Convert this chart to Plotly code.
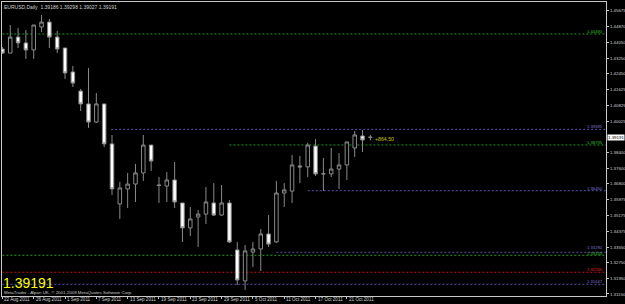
import plotly.graph_objects as go

# ---------------- data ----------------
dates = ["2011-08-22","2011-08-23","2011-08-24","2011-08-25","2011-08-26",
         "2011-08-29","2011-08-30","2011-08-31","2011-09-01","2011-09-02",
         "2011-09-05","2011-09-06","2011-09-07","2011-09-08","2011-09-09",
         "2011-09-12","2011-09-13","2011-09-14","2011-09-15","2011-09-16",
         "2011-09-19","2011-09-20","2011-09-21","2011-09-22","2011-09-23",
         "2011-09-26","2011-09-27","2011-09-28","2011-09-29","2011-09-30",
         "2011-10-03","2011-10-04","2011-10-05","2011-10-06","2011-10-07",
         "2011-10-10","2011-10-11","2011-10-12","2011-10-13","2011-10-14",
         "2011-10-17","2011-10-18","2011-10-19","2011-10-20","2011-10-21",
         "2011-10-24","2011-10-25","2011-10-26"]

opens = [1.4372,1.4351,1.4433,1.4403,1.4367,1.4485,1.4510,1.4433,1.4377,1.4254,
         1.4156,1.4090,1.3997,1.4090,1.3885,1.3577,1.3654,1.3679,1.3736,1.3879,
         1.3674,1.3669,1.3700,1.3582,1.3454,1.3510,1.3525,1.3582,1.3520,1.3582,
         1.3341,1.3182,1.3330,1.3346,1.3423,1.3382,1.3633,1.3643,1.3772,1.3767,
         1.3874,1.3731,1.3731,1.3756,1.3777,1.3864,1.3926,1.39186]
highs = [1.4382,1.4495,1.4480,1.4469,1.4495,1.4546,1.4526,1.4464,1.4377,1.4285,
         1.4167,1.4274,1.4146,1.4090,1.3931,1.3690,1.3736,1.3782,1.3931,1.3879,
         1.3715,1.3741,1.3792,1.3582,1.3561,1.3546,1.3664,1.3684,1.3674,1.3597,
         1.3382,1.3366,1.3382,1.3448,1.3520,1.3695,1.3684,1.3828,1.3823,1.3890,
         1.3910,1.3813,1.3864,1.3838,1.3895,1.3951,1.3956,1.39298]
lows = [1.4346,1.4351,1.4377,1.4321,1.4321,1.4459,1.4377,1.4351,1.4218,1.4177,
        1.4054,1.3967,1.3992,1.3869,1.3623,1.3500,1.3556,1.3587,1.3695,1.3746,
        1.3582,1.3587,1.3556,1.3382,1.3413,1.3356,1.3474,1.3515,1.3515,1.3377,
        1.3161,1.3136,1.3253,1.3233,1.3356,1.3377,1.3561,1.3582,1.3684,1.3715,
        1.3720,1.3643,1.3715,1.3654,1.3700,1.3818,1.3843,1.39027]
closes = [1.4351,1.4433,1.4403,1.4367,1.4495,1.4510,1.4433,1.4372,1.4249,1.4197,
          1.4090,1.3997,1.4090,1.3885,1.3654,1.3659,1.3679,1.3736,1.3879,1.3797,
          1.3672,1.3700,1.3587,1.3454,1.3500,1.3525,1.3587,1.3520,1.3582,1.3382,
          1.3187,1.3336,1.3346,1.3423,1.3371,1.3633,1.3649,1.3777,1.3767,1.3879,
          1.3731,1.3732,1.3756,1.3777,1.3895,1.3931,1.3905,1.39191]

price_ticks = [1.45675,1.44870,1.44050,1.43250,1.42450,1.41625,1.40825,1.40025,
               1.38400,1.37600,1.36800,1.35975,1.35175,1.34375,1.33550,1.32750,
               1.31950,1.31150]

date_tick_idx = [0,4,8,12,16,20,24,28,32,36,40,44]
date_tick_text = ["22 Aug 2011","26 Aug 2011","1 Sep 2011","7 Sep 2011","13 Sep 2011",
                  "19 Sep 2011","23 Sep 2011","29 Sep 2011","5 Oct 2011","11 Oct 2011",
                  "17 Oct 2011","21 Oct 2011"]

level_values = [1.44490, 1.39595, 1.38795, 1.36450, 1.33290, 1.33135, 1.32265, 1.31647]
level_colors = ["#1f9a1f", "#5a55b0", "#1f9a1f", "#5a55b0", "#5a55b0", "#1f9a1f", "#c01010", "#5a55b0"]
level_label_colors = ["#2fc02f", "#7a74d0", "#2fc02f", "#7a74d0", "#7a74d0", "#2fc02f", "#e02020", "#7a74d0"]
level_start = [0, 13.9, 29.0, 39.0, 35.0, 0, 0, 0]
level_label_shift = [-2, -2, -2, -2, 0, -3, -2, -2]

symbol_title = "EURUSD,Daily  1.39186 1.39298 1.39027 1.39191"
last_price_text = "1.39191"
pips_text = "+864.50"
copyright_text = "MetaTrader - Alpari UK, \u00a9 2001-2009 MetaQuotes Software Corp."

# ---------------- figure ----------------
X_MAX = 77.1
Y_MIN, Y_MAX = 1.31047, 1.46130
GRAY = "#8a8a8a"
AXIS = "#c8c8c8"
SMALL = "Liberation Sans"

fig = go.Figure()
fig.add_trace(go.Candlestick(
    x=dates, open=opens, high=highs, low=lows, close=closes,
    increasing=dict(line=dict(color=GRAY, width=1), fillcolor="#000000"),
    decreasing=dict(line=dict(color=GRAY, width=1), fillcolor="#ffffff"),
    whiskerwidth=0, hoverinfo="skip", showlegend=False,
))

shapes = []
annotations = []
for v, c, lc, s, sh in zip(level_values, level_colors, level_label_colors, level_start, level_label_shift):
    shapes.append(dict(type="line", xref="x", yref="y", x0=s, x1=X_MAX, y0=v, y1=v,
                       line=dict(color=c, width=1, dash="2px,2px"), layer="below"))
    annotations.append(dict(xref="paper", yref="y", x=1, y=v, text=f"{v:.5f}",
                            xanchor="right", yanchor="bottom", showarrow=False,
                            xshift=-1, yshift=sh,
                            font=dict(family=SMALL, size=4.2, color=lc)))

# date labels, left-aligned just right of each tick (MetaTrader style)
for i, t in zip(date_tick_idx, date_tick_text):
    annotations.append(dict(xref="x", yref="paper", x=dates[i], y=0, text=t,
                            xanchor="left", yanchor="top", showarrow=False,
                            xshift=1, yshift=0, borderpad=0,
                            font=dict(family=SMALL, size=4.6, color="#d0d0d0")))

annotations.append(dict(xref="paper", yref="paper", x=0, y=1, text=symbol_title,
                        xanchor="left", yanchor="top", showarrow=False, xshift=0, yshift=0,
                        font=dict(family=SMALL, size=5, color="#d0d0d0")))
annotations.append(dict(xref="paper", yref="paper", x=0, y=0.043, text=last_price_text,
                        xanchor="left", yanchor="middle", showarrow=False, xshift=-1,
                        font=dict(family=SMALL, size=14, color="#ffff00")))
annotations.append(dict(xref="paper", yref="paper", x=0, y=0.0, text=copyright_text,
                        xanchor="left", yanchor="bottom", showarrow=False, xshift=0, yshift=-1,
                        font=dict(family=SMALL, size=4.4, color="#c8c8c8")))
annotations.append(dict(xref="x", yref="y", x=dates[-1], y=closes[-1], text=pips_text,
                        xanchor="left", yanchor="middle", showarrow=False, xshift=3, yshift=-2,
                        font=dict(family=SMALL, size=5.2, color="#c8c800")))
annotations.append(dict(xref="paper", yref="y", x=1, y=closes[-1], text=last_price_text,
                        xanchor="left", yanchor="middle", showarrow=False, xshift=1,
                        bgcolor="#ffffff", borderpad=0,
                        font=dict(family=SMALL, size=4.4, color="#000000")))

fig.update_layout(
    width=625, height=304,
    margin=dict(l=2, r=19, t=2, b=8, pad=0),
    paper_bgcolor="#000000", plot_bgcolor="#000000",
    showlegend=False, boxgap=0.36,
    shapes=shapes, annotations=annotations,
    xaxis=dict(type="category", range=[-0.05, X_MAX], rangeslider=dict(visible=False),
               showgrid=False, zeroline=False, showline=True, linecolor=AXIS, linewidth=1,
               mirror=True, ticks="outside", ticklen=2, tickcolor=AXIS, tickwidth=1,
               tickvals=[dates[i] for i in date_tick_idx], showticklabels=False,
               automargin=False),
    yaxis=dict(side="right", range=[Y_MIN, Y_MAX], showgrid=False, zeroline=False,
               showline=True, linecolor=AXIS, linewidth=1, mirror=True,
               ticks="outside", ticklen=2, tickcolor=AXIS, tickwidth=1,
               tickvals=price_ticks, ticktext=[f"{t:.5f}" for t in price_ticks],
               automargin=False,
               tickfont=dict(family=SMALL, size=4.4, color="#d0d0d0")),
)

fig.write_html("out.html")
